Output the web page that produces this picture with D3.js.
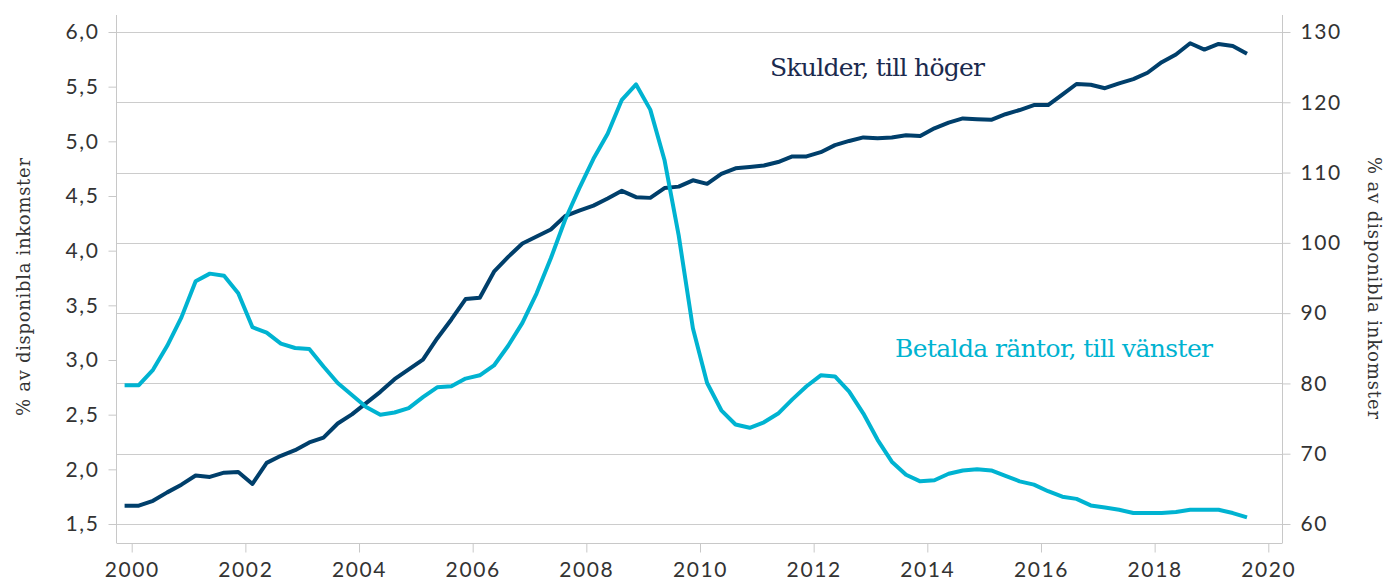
<!DOCTYPE html>
<html>
<head>
<meta charset="utf-8">
<title>Skulder och betalda räntor</title>
<script src="https://d3js.org/d3.v7.min.js"></script>
<style>
  body { margin: 0; background: #fff; }
  .tick text { font-family: Lato, "Open Sans", sans-serif; font-size: 21px; letter-spacing: 1.6px; fill: #333; }
  .tick line { stroke: #c8c8c8; }
  .axis-title { font-family: "DejaVu Serif", serif; font-size: 18px; fill: #333; }
  .series-label { font-family: "DejaVu Serif", serif; font-size: 25px; }
</style>
</head>
<body>
<div id="chart"></div>
<script>
// kvartalsdata, 1999 K4 - 2019 K3
const skulder = [
  62.6, 62.6, 63.3, 64.5, 65.6, 66.9, 66.7, 67.3, 67.4, 65.7,
  68.7, 69.7, 70.5, 71.6, 72.3, 74.3, 75.6, 77.2, 78.8, 80.6,
  82.0, 83.4, 86.4, 89.1, 92.0, 92.2, 95.9, 98.0, 99.9, 100.9,
  101.9, 103.8, 104.6, 105.3, 106.3, 107.4, 106.5, 106.4, 107.8, 108.0,
  108.9, 108.4, 109.8, 110.6, 110.8, 111.0, 111.5, 112.3, 112.3, 112.9,
  113.9, 114.5, 115.0, 114.9, 115.0, 115.3, 115.2, 116.3, 117.1, 117.7,
  117.6, 117.5, 118.3, 118.9, 119.6, 119.6, 121.1, 122.6, 122.5, 122.0,
  122.7, 123.3, 124.2, 125.7, 126.8, 128.4, 127.5, 128.3, 128.0, 126.9
];
const rantor = [
  2.77, 2.77, 2.91, 3.13, 3.39, 3.72, 3.79, 3.77, 3.61, 3.30,
  3.25, 3.15, 3.11, 3.10, 2.94, 2.79, 2.68, 2.57, 2.50, 2.52,
  2.56, 2.66, 2.75, 2.76, 2.83, 2.86, 2.95, 3.13, 3.34, 3.61,
  3.93, 4.28, 4.57, 4.84, 5.07, 5.38, 5.52, 5.29, 4.83, 4.14,
  3.29, 2.79, 2.54, 2.41, 2.38, 2.43, 2.51, 2.64, 2.76, 2.86,
  2.85, 2.71, 2.51, 2.27, 2.07, 1.95, 1.89, 1.90, 1.96, 1.99,
  2.00, 1.99, 1.94, 1.89, 1.86, 1.80, 1.75, 1.73, 1.67, 1.65,
  1.63, 1.60, 1.60, 1.60, 1.61, 1.63, 1.63, 1.63, 1.60, 1.56
];
const firstQuarter = 1999.875;   // mitten av 1999 K4
const xTicks = [2000, 2002, 2004, 2006, 2008, 2010, 2012, 2014, 2016, 2018, 2020];
const leftTicks = [1.5, 2.0, 2.5, 3.0, 3.5, 4.0, 4.5, 5.0, 5.5, 6.0];
const rightTicks = [60, 70, 80, 90, 100, 110, 120, 130];

const width = 1398, height = 583;
const plotLeft = 116.5, plotRight = 1282.5, plotTop = 15, plotBottom = 543;

const sv = d3.formatLocale({ decimal: ",", thousands: " ", grouping: [3], currency: ["", " kr"] });

const svg = d3.select("#chart").append("svg")
  .attr("width", width)
  .attr("height", height);

const x = d3.scaleLinear().domain([2000, 2020]).range([131.7, 1268.3]);
const yL = d3.scaleLinear().domain([1.5, 6.0]).range([524, 32]);
const yR = d3.scaleLinear().domain([60, 130]).range([524, 32]);

const dateOf = i => firstQuarter + i * 0.25;

// gridlines from right axis
svg.append("g")
  .selectAll("line")
  .data(rightTicks)
  .join("line")
  .attr("x1", plotLeft).attr("x2", plotRight)
  .attr("y1", d => Math.round(yR(d)) + 0.5).attr("y2", d => Math.round(yR(d)) + 0.5)
  .attr("stroke", "#cccccc")
  .attr("stroke-width", 1);

// axis frame lines
svg.append("line").attr("x1", plotLeft).attr("x2", plotLeft).attr("y1", plotTop).attr("y2", plotBottom)
  .attr("stroke", "#c8c8c8");
svg.append("line").attr("x1", plotRight).attr("x2", plotRight).attr("y1", plotTop).attr("y2", plotBottom)
  .attr("stroke", "#c8c8c8");
svg.append("line").attr("x1", plotLeft).attr("x2", plotRight).attr("y1", plotBottom + 0.5).attr("y2", plotBottom + 0.5)
  .attr("stroke", "#c8c8c8");

// axes
const gL = svg.append("g")
  .attr("transform", `translate(${plotLeft},0)`)
  .call(d3.axisLeft(yL).tickValues(leftTicks).tickFormat(sv.format(".1f")).tickSize(8).tickPadding(9));
const gR = svg.append("g")
  .attr("transform", `translate(${plotRight},0)`)
  .call(d3.axisRight(yR).tickValues(rightTicks).tickFormat(d3.format("d")).tickSize(8).tickPadding(10));
const gX = svg.append("g")
  .attr("transform", `translate(0,${plotBottom + 0.5})`)
  .call(d3.axisBottom(x).tickValues(xTicks).tickFormat(d3.format("d")).tickSize(9).tickPadding(10));
[gL, gR, gX].forEach(g => g.select(".domain").remove());

// lines
const lineR = d3.line().x((d, i) => x(dateOf(i))).y(d => yR(d));
const lineL = d3.line().x((d, i) => x(dateOf(i))).y(d => yL(d));

svg.append("path")
  .datum(skulder)
  .attr("d", lineR)
  .attr("fill", "none")
  .attr("stroke", "#003f6b")
  .attr("stroke-width", 4)
  .attr("stroke-linejoin", "round");

svg.append("path")
  .datum(rantor)
  .attr("d", lineL)
  .attr("fill", "none")
  .attr("stroke", "#00b3d1")
  .attr("stroke-width", 4)
  .attr("stroke-linejoin", "round");

// series labels
svg.append("text")
  .attr("class", "series-label")
  .attr("x", 770).attr("y", 76)
  .attr("textLength", 215)
  .attr("fill", "#1b2a4e")
  .text("Skulder, till höger");

svg.append("text")
  .attr("class", "series-label")
  .attr("x", 895).attr("y", 357)
  .attr("textLength", 318)
  .attr("fill", "#00b3d1")
  .text("Betalda räntor, till vänster");

// axis titles
svg.append("text")
  .attr("class", "axis-title")
  .attr("transform", "translate(30,287) rotate(-90)")
  .attr("text-anchor", "middle")
  .attr("textLength", 258)
  .text("% av disponibla inkomster");

svg.append("text")
  .attr("class", "axis-title")
  .attr("transform", "translate(1368,288) rotate(90)")
  .attr("text-anchor", "middle")
  .attr("textLength", 262)
  .text("% av disponibla inkomster");
</script>
</body>
</html>
